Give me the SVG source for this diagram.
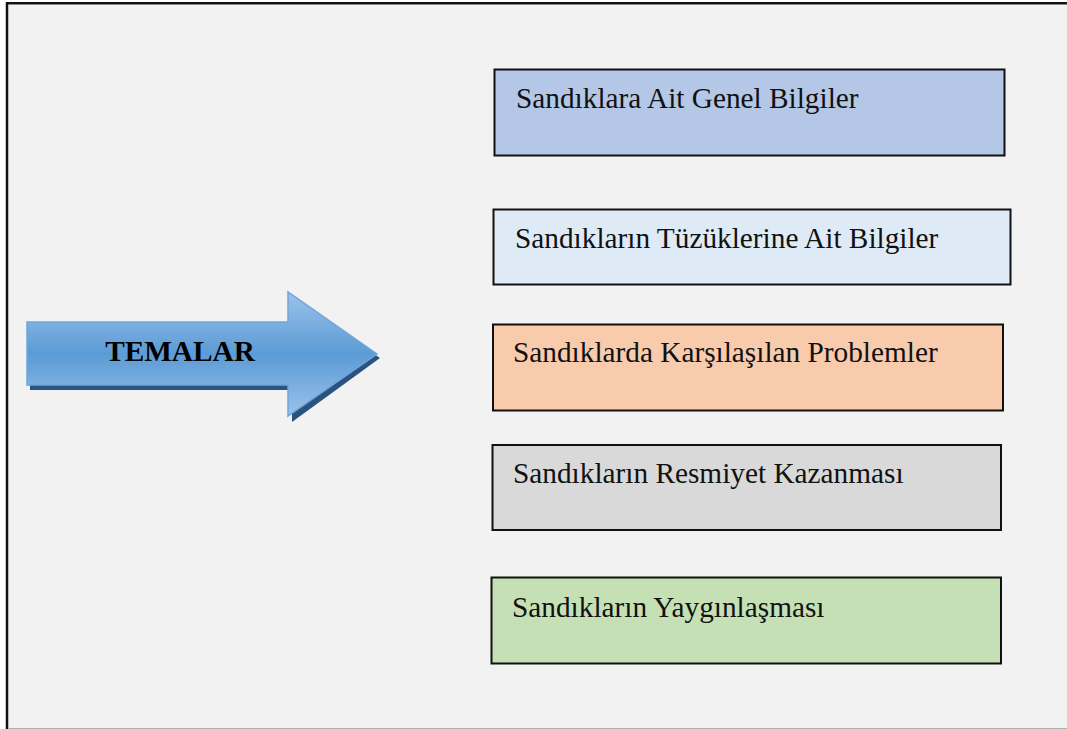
<svg xmlns="http://www.w3.org/2000/svg" width="1067" height="729" viewBox="0 0 1067 729">
<defs>
<linearGradient id="arrowGrad" x1="0" y1="0" x2="0" y2="1">
<stop offset="0" stop-color="#9cc2ea"/>
<stop offset="0.5" stop-color="#5b9bd5"/>
<stop offset="1" stop-color="#9cc2ea"/>
</linearGradient>
<style>
.box{stroke:#111;stroke-width:2}
.lbl{font-family:"Liberation Serif","Times New Roman",serif;font-size:29.3px;fill:#111}
.ttl{font-family:"Liberation Serif","Times New Roman",serif;font-size:29.3px;font-weight:bold;fill:#000}
</style>
</defs>
<rect x="0" y="0" width="1067" height="729" fill="#ffffff"/>
<rect x="7" y="3" width="1060" height="726" fill="#f2f2f2"/>
<line x1="6" y1="3" x2="1067" y2="3" stroke="#111" stroke-width="2"/>
<line x1="6" y1="4.5" x2="1067" y2="4.5" stroke="#888" stroke-width="1"/>
<line x1="7" y1="2" x2="7" y2="729" stroke="#111" stroke-width="2.5"/>
<line x1="8" y1="728.5" x2="1067" y2="728.5" stroke="#b0b0b0" stroke-width="1"/>
<g id="temalar">
<polygon points="30,328 292,328 292,297 380,358 292,422 292,390 30,390" fill="#2a5380"/>
<polygon points="27,322 288,322 288,292 377,354 288,416 288,385 27,385" fill="url(#arrowGrad)" stroke="#6fa6da" stroke-width="1.5"/>
<text class="ttl" x="180" y="361" text-anchor="middle">TEMALAR</text>
</g>
<g id="genel-bilgiler">
<rect class="box" x="494.5" y="69.5" width="510" height="86" fill="#b4c7e7"/>
<text class="lbl" x="516" y="108">Sandıklara Ait Genel Bilgiler</text>
</g>
<g id="tuzukler">
<rect class="box" x="493.5" y="209.5" width="517" height="75" fill="#deebf7"/>
<text class="lbl" x="515" y="248">Sandıkların Tüzüklerine Ait Bilgiler</text>
</g>
<g id="problemler">
<rect class="box" x="493" y="324.5" width="510" height="86" fill="#f8cbad"/>
<text class="lbl" x="513" y="362">Sandıklarda Karşılaşılan Problemler</text>
</g>
<g id="resmiyet">
<rect class="box" x="492.5" y="445" width="508.5" height="85" fill="#d9d9d9"/>
<text class="lbl" x="513" y="483">Sandıkların Resmiyet Kazanması</text>
</g>
<g id="yayginlasma">
<rect class="box" x="491.5" y="577.5" width="509.5" height="86" fill="#c5e0b4"/>
<text class="lbl" x="512" y="617">Sandıkların Yaygınlaşması</text>
</g>
<g id="connectors"></g>
</svg>
